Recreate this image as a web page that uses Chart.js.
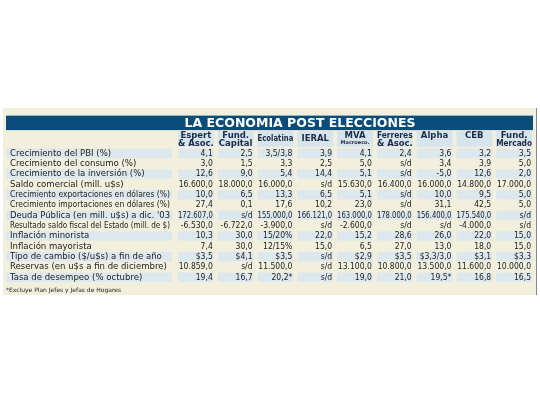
<!DOCTYPE html>
<html><head><meta charset="utf-8">
<script src="https://cdn.jsdelivr.net/npm/chart.js@4"></script>
<style>body{margin:0;background:#fff}#c{display:block}</style>
</head><body>
<div style="width:540px;height:405px"><canvas id="c"></canvas></div>
<script>
// Datos de la tabla
const title = 'LA ECONOMIA POST ELECCIONES';
const sources = [['Espert', '& Asoc.'], ['Fund.', 'Capital'], ['Ecolatina'], ['IERAL'], ['MVA', 'Macroeco.'],
    ['Ferreres', '& Asoc.'], ['Alpha'], ['CEB'], ['Fund.', 'Mercado']];
const indicators = [
    'Crecimiento del PBI (%)', 'Crecimiento del consumo (%)', 'Crecimiento de la inversión (%)',
    'Saldo comercial (mill. u$s)', 'Crecimiento exportaciones en dólares (%)',
    'Crecimiento importaciones en dólares (%)', "Deuda Pública (en mill. u$s) a dic. '03",
    'Resultado saldo fiscal del Estado (mill. de $)', 'Inflación minorista', 'Inflación mayorista',
    'Tipo de cambio ($/u$s) a fin de año', 'Reservas (en u$s a fin de diciembre)', 'Tasa de desempeo (% octubre)'
];
const espert = ['4,1', '3,0', '12,6', '16.600,0', '10,0', '27,4', '172.607,0', '-6.530,0', '10,3', '7,4', '$3,5', '10.859,0', '19,4'];
const fundCapital = ['2,5', '1,5', '9,0', '18.000,0', '6,5', '0,1', 's/d', '-6.722,0', '30,0', '30,0', '$4,1', 's/d', '16,7'];
const ecolatina = ['3,5/3,8', '3,3', '5,4', '16.000,0', '13,3', '17,6', '155.000,0', '-3.900,0', '15/20%', '12/15%', '$3,5', '11.500,0', '20,2*'];
const ieral = ['3,9', '2,5', '14,4', 's/d', '6,5', '10,2', '166.121,0', 's/d', '22,0', '15,0', 's/d', 's/d', 's/d'];
const mva = ['4,1', '5,0', '5,1', '15.630,0', '5,1', '23,0', '163.000,0', '-2.600,0', '15,2', '6,5', '$2,9', '13.100,0', '19,0'];
const ferreres = ['2,4', 's/d', 's/d', '16.400,0', 's/d', 's/d', '178.000,0', 's/d', '28,6', '27,0', '$3,5', '10.800,0', '21,0'];
const alpha = ['3,6', '3,4', '-5,0', '16.000,0', '10,0', '31,1', '156.400,0', 's/d', '26,0', '13,0', '$3,3/3,0', '13.500,0', '19,5*'];
const ceb = ['3,2', '3,9', '12,6', '14.800,0', '9,5', '42,5', '175.540,0', '-4.000,0', '22,0', '18,0', '$3,1', '11.600,0', '16,8'];
const fundMercado = ['3,5', '5,0', '2,0', '17.000,0', '5,0', '5,0', 's/d', 's/d', '15,0', '15,0', '$3,3', '10.000,0', '16,5'];
const footnote = '*Excluye Plan Jefes y Jefas de Hogares';

const columns = [espert, fundCapital, ecolatina, ieral, mva, ferreres, alpha, ceb, fundMercado];
const narrow = '"Liberation Sans Narrow", "DejaVu Sans Condensed", "DejaVu Sans"';

const tablePlugin = {
    id: 'table',
    beforeDraw(chart) {
        const ctx = chart.ctx;
        const xs = chart.scales.x, ys = chart.scales.y;
        const colW = xs.getPixelForValue(1) - xs.getPixelForValue(0);
        const rowH = ys.getPixelForValue(1) - ys.getPixelForValue(0);
        ctx.save();
        ctx.fillStyle = '#ffffff';
        ctx.fillRect(0, 0, chart.width, chart.height);
        ctx.fillStyle = '#f2efdc';
        ctx.fillRect(3, 108, 533, 187);
        ctx.fillStyle = '#8a8a8a';
        ctx.fillRect(536, 108, 1, 187);

        // barra de titulo
        const tTop = ys.getPixelForValue(-3.6), tBot = ys.getPixelForValue(-2.2);
        ctx.fillStyle = '#0b4d78';
        ctx.fillRect(6, tTop, 527, tBot - tTop);
        ctx.fillStyle = '#ffffff';
        ctx.font = 'bold 12.5px "DejaVu Sans"';
        ctx.textAlign = 'center';
        ctx.textBaseline = 'middle';
        ctx.fillText(title, 300, (tTop + tBot) / 2 + 1);

        // cabeceras
        const hTop = ys.getPixelForValue(-2.1), hBot = ys.getPixelForValue(-0.6);
        sources.forEach((s, j) => {
            const cx = xs.getPixelForValue(j);
            ctx.fillStyle = '#d6e4ec';
            ctx.fillRect(cx - colW / 2 + 2, hTop, colW - 4, hBot - hTop);
            ctx.fillStyle = '#1d2b48';
            ctx.font = 'bold 8.5px "DejaVu Sans"';
            if (s.length === 1) {
                ctx.fillText(s[0], cx, (j === 6 || j === 7) ? hTop + 5 : (hTop + hBot) / 2, colW - 4);
            } else if (s[1] === 'Macroeco.') {
                ctx.fillText(s[0], cx, hTop + 5, colW - 4);
                ctx.font = 'bold 5px "DejaVu Sans"';
                ctx.fillText(s[1], cx, hTop + 12, colW - 4);
            } else {
                ctx.fillText(s[0], cx, hTop + 5, colW - 4);
                ctx.fillText(s[1], cx, hTop + 13, colW - 4);
            }
        });

        // filas
        indicators.forEach((lab, i) => {
            const cy = ys.getPixelForValue(i);
            if (i % 2 === 0) {
                ctx.fillStyle = '#dde8ee';
                ctx.fillRect(6, cy - rowH / 2 + 1, 166, rowH - 1);
                columns.forEach((col, j) => {
                    const cx = xs.getPixelForValue(j);
                    ctx.fillRect(cx - colW / 2 + 2, cy - rowH / 2 + 1, colW - 4, rowH - 1);
                });
            }
            ctx.fillStyle = '#222222';
            ctx.font = '9.5px ' + narrow;
            ctx.textAlign = 'left';
            ctx.fillText(lab, 10, cy + 0.5, 160);
            ctx.textAlign = 'right';
            ctx.font = '8.5px ' + narrow;
            columns.forEach((col, j) => {
                const cx = xs.getPixelForValue(j);
                ctx.fillText(col[i], cx + colW / 2 - 3, cy + 0.5, colW - 5);
            });
        });

        ctx.textAlign = 'left';
        ctx.font = '6px "DejaVu Sans"';
        ctx.fillStyle = '#222222';
        ctx.fillText(footnote, 6, ys.getPixelForValue(13.3));
        ctx.restore();
    }
};

new Chart(document.getElementById('c'), {
    type: 'scatter',
    data: { datasets: [] },
    options: {
        responsive: true,
        maintainAspectRatio: false,
        animation: false,
        layout: { padding: { left: 176, right: 6, top: 127, bottom: 123 } },
        plugins: { legend: { display: false }, tooltip: { enabled: false } },
        scales: {
            x: { type: 'linear', min: -0.5, max: 8.5, display: false },
            y: { type: 'linear', min: -2.5, max: 12.5, reverse: true, display: false }
        }
    },
    plugins: [tablePlugin]
});
</script>
</body></html>
